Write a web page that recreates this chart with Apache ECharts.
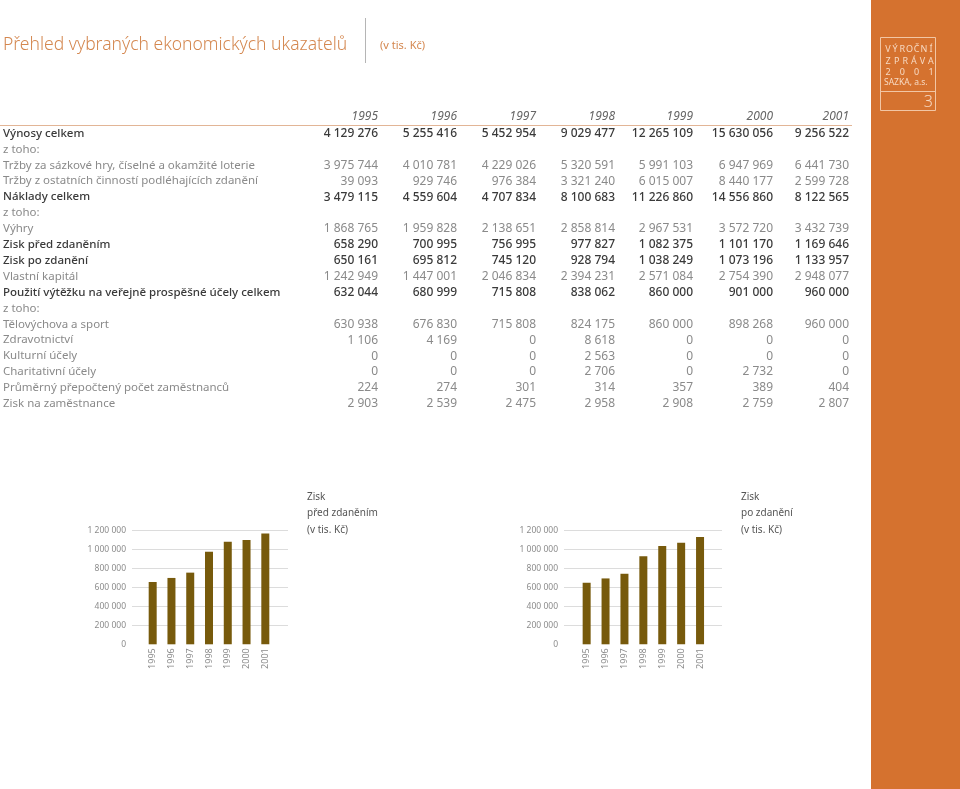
<!DOCTYPE html>
<html>
<head>
<meta charset="utf-8">
<title>Přehled vybraných ekonomických ukazatelů</title>
<script src="https://cdn.jsdelivr.net/npm/echarts@6/dist/echarts.min.js"></script>
<style>
    html, body { margin: 0; padding: 0; background: #fff; }
    #main { width: 960px; height: 789px; }
</style>
</head>
<body>
<div id="main"></div>
<script>
// data (v tis. Kč)
const years = ['1995', '1996', '1997', '1998', '1999', '2000', '2001'];
const vynosyCelkem = [4129276, 5255416, 5452954, 9029477, 12265109, 15630056, 9256522];
const trzbySazkoveHry = [3975744, 4010781, 4229026, 5320591, 5991103, 6947969, 6441730];
const trzbyOstatni = [39093, 929746, 976384, 3321240, 6015007, 8440177, 2599728];
const nakladyCelkem = [3479115, 4559604, 4707834, 8100683, 11226860, 14556860, 8122565];
const vyhry = [1868765, 1959828, 2138651, 2858814, 2967531, 3572720, 3432739];
const ziskPredZdanenim = [658290, 700995, 756995, 977827, 1082375, 1101170, 1169646];
const ziskPoZdaneni = [650161, 695812, 745120, 928794, 1038249, 1073196, 1133957];
const vlastniKapital = [1242949, 1447001, 2046834, 2394231, 2571084, 2754390, 2948077];
const pouzitiVytezku = [632044, 680999, 715808, 838062, 860000, 901000, 960000];
const telovychova = [630938, 676830, 715808, 824175, 860000, 898268, 960000];
const zdravotnictvi = [1106, 4169, 0, 8618, 0, 0, 0];
const kulturniUcely = [0, 0, 0, 2563, 0, 0, 0];
const charitativniUcely = [0, 0, 0, 2706, 0, 2732, 0];
const pocetZamestnancu = [224, 274, 301, 314, 357, 389, 404];
const ziskNaZamestnance = [2903, 2539, 2475, 2958, 2908, 2759, 2807];
const axisTicks = [0, 200000, 400000, 600000, 800000, 1000000, 1200000];

// label, values, bold
const tableRows = [
    ['Výnosy celkem', vynosyCelkem, true],
    ['z toho:', null, false],
    ['Tržby za sázkové hry, číselné a okamžité loterie', trzbySazkoveHry, false],
    ['Tržby z ostatních činností podléhajících zdanění', trzbyOstatni, false],
    ['Náklady celkem', nakladyCelkem, true],
    ['z toho:', null, false],
    ['Výhry', vyhry, false],
    ['Zisk před zdaněním', ziskPredZdanenim, true],
    ['Zisk po zdanění', ziskPoZdaneni, true],
    ['Vlastní kapitál', vlastniKapital, false],
    ['Použití výtěžku na veřejně prospěšné účely celkem', pouzitiVytezku, true],
    ['z toho:', null, false],
    ['Tělovýchova a sport', telovychova, false],
    ['Zdravotnictví', zdravotnictvi, false],
    ['Kulturní účely', kulturniUcely, false],
    ['Charitativní účely', charitativniUcely, false],
    ['Průměrný přepočtený počet zaměstnanců', pocetZamestnancu, false],
    ['Zisk na zaměstnance', ziskNaZamestnance, false]
];

const FONT = '"Noto Sans", "Open Sans", sans-serif';
const ORANGE = '#d5722f';
const BAR = '#775a0c';

function fmt(v) {
    return String(v).replace(/\B(?=(\d{3})+(?!\d))/g, ' ');
}

const colRight = [378, 457, 536, 615, 693, 773, 849];
const rowTop = 133.5;
const rowStep = 15.9;

let graphic = [];

// page title
graphic.push({
    type: 'text',
    style: { text: 'Přehled vybraných ekonomických ukazatelů', x: 3, y: 45, textVerticalAlign: 'middle',
        fill: '#d4874f', font: '300 17.5px ' + FONT }
});
graphic.push({
    type: 'line', shape: { x1: 365.5, y1: 18, x2: 365.5, y2: 63 },
    style: { stroke: '#b5b5b5', lineWidth: 1 }
});
graphic.push({
    type: 'text',
    style: { text: '(v tis. Kč)', x: 380, y: 46, textVerticalAlign: 'middle',
        fill: '#d4874f', font: '11px ' + FONT }
});

// sidebar
graphic.push({ type: 'rect', shape: { x: 871, y: 0, width: 89, height: 789 }, style: { fill: ORANGE } });
graphic.push({ type: 'rect', shape: { x: 880.5, y: 37.5, width: 55, height: 73 },
    style: { fill: 'none', stroke: '#f2c6a4', lineWidth: 1 } });
graphic.push({ type: 'line', shape: { x1: 880.5, y1: 91.5, x2: 935.5, y2: 91.5 },
    style: { stroke: '#f2c6a4', lineWidth: 1 } });
const sideLines = [['VÝROČNÍ', 49, true], ['ZPRÁVA', 61, true], ['2001', 72, true], ['SAZKA, a.s.', 83, false]];
sideLines.forEach(function (l) {
    if (l[2]) {
        const chars = l[0].split('');
        const step = 43 / (chars.length - 1);
        chars.forEach(function (c, i) {
            graphic.push({ type: 'text', style: { text: c, x: 888 + i * step, y: l[1], textAlign: 'center',
                textVerticalAlign: 'middle', fill: '#f7d9c2', font: '9px ' + FONT } });
        });
    } else {
        graphic.push({ type: 'text', style: { text: l[0], x: 884, y: l[1], textVerticalAlign: 'middle',
            fill: '#f7d9c2', font: '8.5px ' + FONT } });
    }
});
graphic.push({ type: 'text', style: { text: '3', x: 933, y: 102, textAlign: 'right', textVerticalAlign: 'middle',
    fill: '#f7d9c2', font: '300 16px ' + FONT } });

// table header
years.forEach(function (y, i) {
    graphic.push({ type: 'text', style: { text: y, x: colRight[i], y: 117, textAlign: 'right',
        textVerticalAlign: 'middle', fill: '#666', font: 'italic 12px ' + FONT } });
});
graphic.push({ type: 'line', shape: { x1: 0, y1: 125.5, x2: 852, y2: 125.5 },
    style: { stroke: '#e2b596', lineWidth: 1 } });

// table rows
tableRows.forEach(function (r, i) {
    const y = rowTop + i * rowStep;
    const col = r[2] ? '#3a3a3a' : '#8a8a8a';
    const w = r[2] ? '500 ' : 'normal ';
    graphic.push({ type: 'text', style: { text: r[0], x: 3, y: y, textVerticalAlign: 'middle', fill: col,
        font: w + '11.5px ' + FONT } });
    if (r[1]) {
        r[1].forEach(function (v, j) {
            graphic.push({ type: 'text', style: { text: fmt(v), x: colRight[j], y: y, textAlign: 'right',
                textVerticalAlign: 'middle', fill: col, font: w + '12px ' + FONT } });
        });
    }
});

// chart captions
function caption(x, lines) {
    lines.forEach(function (t, i) {
        graphic.push({ type: 'text', style: { text: t, x: x, y: 497 + i * 16.5, textVerticalAlign: 'middle',
            fill: '#555', font: '10px ' + FONT } });
    });
}
caption(307, ['Zisk', 'před zdaněním', '(v tis. Kč)']);
caption(741, ['Zisk', 'po zdanění', '(v tis. Kč)']);

const gTop = 530.7, gHeight = 113.6;

function backY(gi) {
    return {
        type: 'value', gridIndex: gi, min: axisTicks[0], max: axisTicks[axisTicks.length - 1],
        interval: axisTicks[1] - axisTicks[0],
        axisLine: { show: false }, axisTick: { show: false },
        axisLabel: { color: '#8c8c8c', fontSize: 8.5, fontFamily: FONT, margin: 6, formatter: fmt },
        splitLine: { lineStyle: { color: ['rgba(0,0,0,0)', '#dcdcdc', '#dcdcdc', '#dcdcdc', '#dcdcdc', '#dcdcdc', '#dcdcdc'], width: 1 } }
    };
}
function frontY(gi) {
    return { type: 'value', gridIndex: gi, min: axisTicks[0], max: axisTicks[axisTicks.length - 1], show: false };
}
function frontX(gi) {
    return {
        type: 'category', gridIndex: gi, data: years,
        axisLine: { show: false }, axisTick: { show: false },
        axisLabel: { rotate: 90, color: '#8c8c8c', fontSize: 9, fontFamily: FONT, margin: 4 }
    };
}

const chart = echarts.init(document.getElementById('main'));
chart.setOption({
    backgroundColor: '#fff',
    animation: false,
    grid: [
        { left: 132, top: gTop, width: 156, height: gHeight },
        { left: 143.3, top: gTop, width: 131.4, height: gHeight },
        { left: 564, top: gTop, width: 158, height: gHeight },
        { left: 577.2, top: gTop, width: 132.3, height: gHeight }
    ],
    xAxis: [
        { type: 'category', gridIndex: 0, data: years, show: false },
        frontX(1),
        { type: 'category', gridIndex: 2, data: years, show: false },
        frontX(3)
    ],
    yAxis: [backY(0), frontY(1), backY(2), frontY(3)],
    series: [
        { name: 'Zisk před zdaněním', type: 'bar', xAxisIndex: 1, yAxisIndex: 1, barWidth: 8,
            itemStyle: { color: BAR }, data: ziskPredZdanenim },
        { name: 'Zisk po zdanění', type: 'bar', xAxisIndex: 3, yAxisIndex: 3, barWidth: 8,
            itemStyle: { color: BAR }, data: ziskPoZdaneni }
    ],
    graphic: graphic
});
</script>
</body>
</html>
